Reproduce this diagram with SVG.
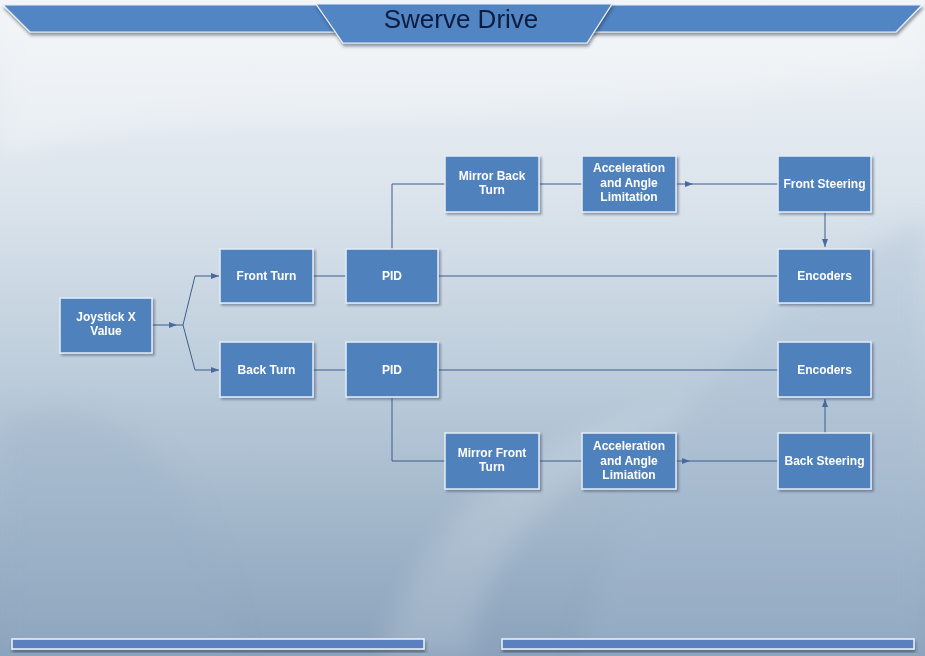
<svg xmlns="http://www.w3.org/2000/svg" width="925" height="656" viewBox="0 0 925 656">
<style>
.box{fill:#4f81bd;stroke:#e4edf7;stroke-width:1.5;filter:url(#sh)}
.lbl{font-family:"Liberation Sans",Arial,sans-serif;font-size:12px;font-weight:bold;fill:#ffffff;text-anchor:middle}
.ln{fill:none;stroke:#3d5d8e;stroke-width:1}
.arr{fill:none;stroke:#3d5d8e;stroke-width:1;marker-end:url(#ah)}
.band{fill:#5185c4;stroke:#e8f0f8;stroke-width:1.2;filter:url(#bsh)}
.bar{fill:#5a80bf;stroke:#eef4fa;stroke-width:1.5;filter:url(#bsh)}
</style>
<defs>
<linearGradient id="bg" x1="0" y1="0" x2="0" y2="1">
<stop offset="0" stop-color="#f1f4f7"/>
<stop offset="0.3" stop-color="#dbe4ec"/>
<stop offset="0.6" stop-color="#b9cad9"/>
<stop offset="1" stop-color="#8aa2bb"/>
</linearGradient>
<filter id="sh" x="-10%" y="-10%" width="125%" height="130%">
<feDropShadow dx="2" dy="2" stdDeviation="1.2" flood-color="#2a3a55" flood-opacity="0.45"/>
</filter>
<filter id="bsh" x="-5%" y="-20%" width="110%" height="160%">
<feDropShadow dx="1" dy="3" stdDeviation="1.5" flood-color="#2a3448" flood-opacity="0.5"/>
</filter>
<filter id="soft" x="-10%" y="-10%" width="120%" height="120%">
<feGaussianBlur stdDeviation="12"/>
</filter>
<marker id="ah" viewBox="0 0 8 6" refX="8" refY="3" markerWidth="8" markerHeight="6" orient="auto" markerUnits="userSpaceOnUse">
<path d="M0,0 L8,3 L0,6 z" fill="#4a6a9c"/>
</marker>
</defs>
<rect x="0" y="0" width="925" height="656" fill="url(#bg)"/>
<g filter="url(#soft)">
<path d="M0,160 C180,90 420,150 925,70 V0 H0 Z" fill="#ffffff" opacity="0.25"/>
<path d="M580,656 C620,480 740,300 925,220 V656 Z" fill="#a6bbcf" opacity="0.3"/>
<path d="M0,420 C120,380 200,460 240,656 H0 Z" fill="#97aec6" opacity="0.3"/>
<path d="M380,656 C420,520 520,430 700,400 C560,470 480,560 470,656 Z" fill="#ffffff" opacity="0.15"/>
</g>

<g id="banner">
<polygon class="band" points="3,5 335,5 335,32 30,32"/>
<polygon class="band" points="590,5 922,5 896,32 590,32"/>
<polygon class="band" points="316,4 612,4 587,43 343,43"/>
<text x="461" y="28" font-family="'Liberation Sans',Arial,sans-serif" font-size="26" fill="#0d1b3e" text-anchor="middle">Swerve Drive</text>
</g>
<g id="footer">
<rect class="bar" x="12" y="639" width="412" height="10"/>
<rect class="bar" x="502" y="639" width="412" height="10"/>
</g>

<g id="connectors">
<path class="arr" d="M152,325 H177"/>
<path class="arr" d="M177,325 H183 L195,276 H219"/>
<path class="arr" d="M183,325 L195,370 H219"/>
<path class="ln" d="M313,276 H346"/>
<path class="ln" d="M438,276 H778"/>
<path class="ln" d="M392,249 V184 H445"/>
<path class="ln" d="M539,184 H582"/>
<path class="arr" d="M676,184 H693"/>
<path class="ln" d="M693,184 H778"/>
<path class="arr" d="M825,212 V247"/>
<path class="ln" d="M313,370 H346"/>
<path class="ln" d="M438,370 H778"/>
<path class="ln" d="M392,397 V461 H445"/>
<path class="ln" d="M539,461 H582"/>
<path class="arr" d="M676,461 H690"/>
<path class="ln" d="M690,461 H778"/>
<path class="arr" d="M825,433 V399"/>
</g>

<g id="joystick"><rect class="box" x="60" y="298" width="92" height="55"/><text class="lbl" x="106" y="321">Joystick X</text><text class="lbl" x="106" y="335">Value</text></g>
<g id="front-turn"><rect class="box" x="220" y="249" width="93" height="54"/><text class="lbl" x="266.5" y="280">Front Turn</text></g>
<g id="pid-top"><rect class="box" x="346" y="249" width="92" height="54"/><text class="lbl" x="392" y="280">PID</text></g>
<g id="back-turn"><rect class="box" x="220" y="342" width="93" height="55"/><text class="lbl" x="266.5" y="374">Back Turn</text></g>
<g id="pid-bottom"><rect class="box" x="346" y="342" width="92" height="55"/><text class="lbl" x="392" y="374">PID</text></g>
<g id="mirror-back-turn"><rect class="box" x="445" y="156" width="94" height="56"/><text class="lbl" x="492" y="180">Mirror Back</text><text class="lbl" x="492" y="194">Turn</text></g>
<g id="accel-top"><rect class="box" x="582" y="156" width="94" height="56"/><text class="lbl" x="629" y="172">Acceleration</text><text class="lbl" x="629" y="187">and Angle</text><text class="lbl" x="629" y="201">Limitation</text></g>
<g id="front-steering"><rect class="box" x="778" y="156" width="93" height="56"/><text class="lbl" x="824.5" y="188">Front Steering</text></g>
<g id="encoders-top"><rect class="box" x="778" y="249" width="93" height="54"/><text class="lbl" x="824.5" y="280">Encoders</text></g>
<g id="encoders-bottom"><rect class="box" x="778" y="342" width="93" height="55"/><text class="lbl" x="824.5" y="374">Encoders</text></g>
<g id="mirror-front-turn"><rect class="box" x="445" y="433" width="94" height="56"/><text class="lbl" x="492" y="457">Mirror Front</text><text class="lbl" x="492" y="471">Turn</text></g>
<g id="accel-bottom"><rect class="box" x="582" y="433" width="94" height="56"/><text class="lbl" x="629" y="450">Acceleration</text><text class="lbl" x="629" y="464.5">and Angle</text><text class="lbl" x="629" y="479">Limiation</text></g>
<g id="back-steering"><rect class="box" x="778" y="433" width="93" height="56"/><text class="lbl" x="824.5" y="465">Back Steering</text></g>
</svg>
